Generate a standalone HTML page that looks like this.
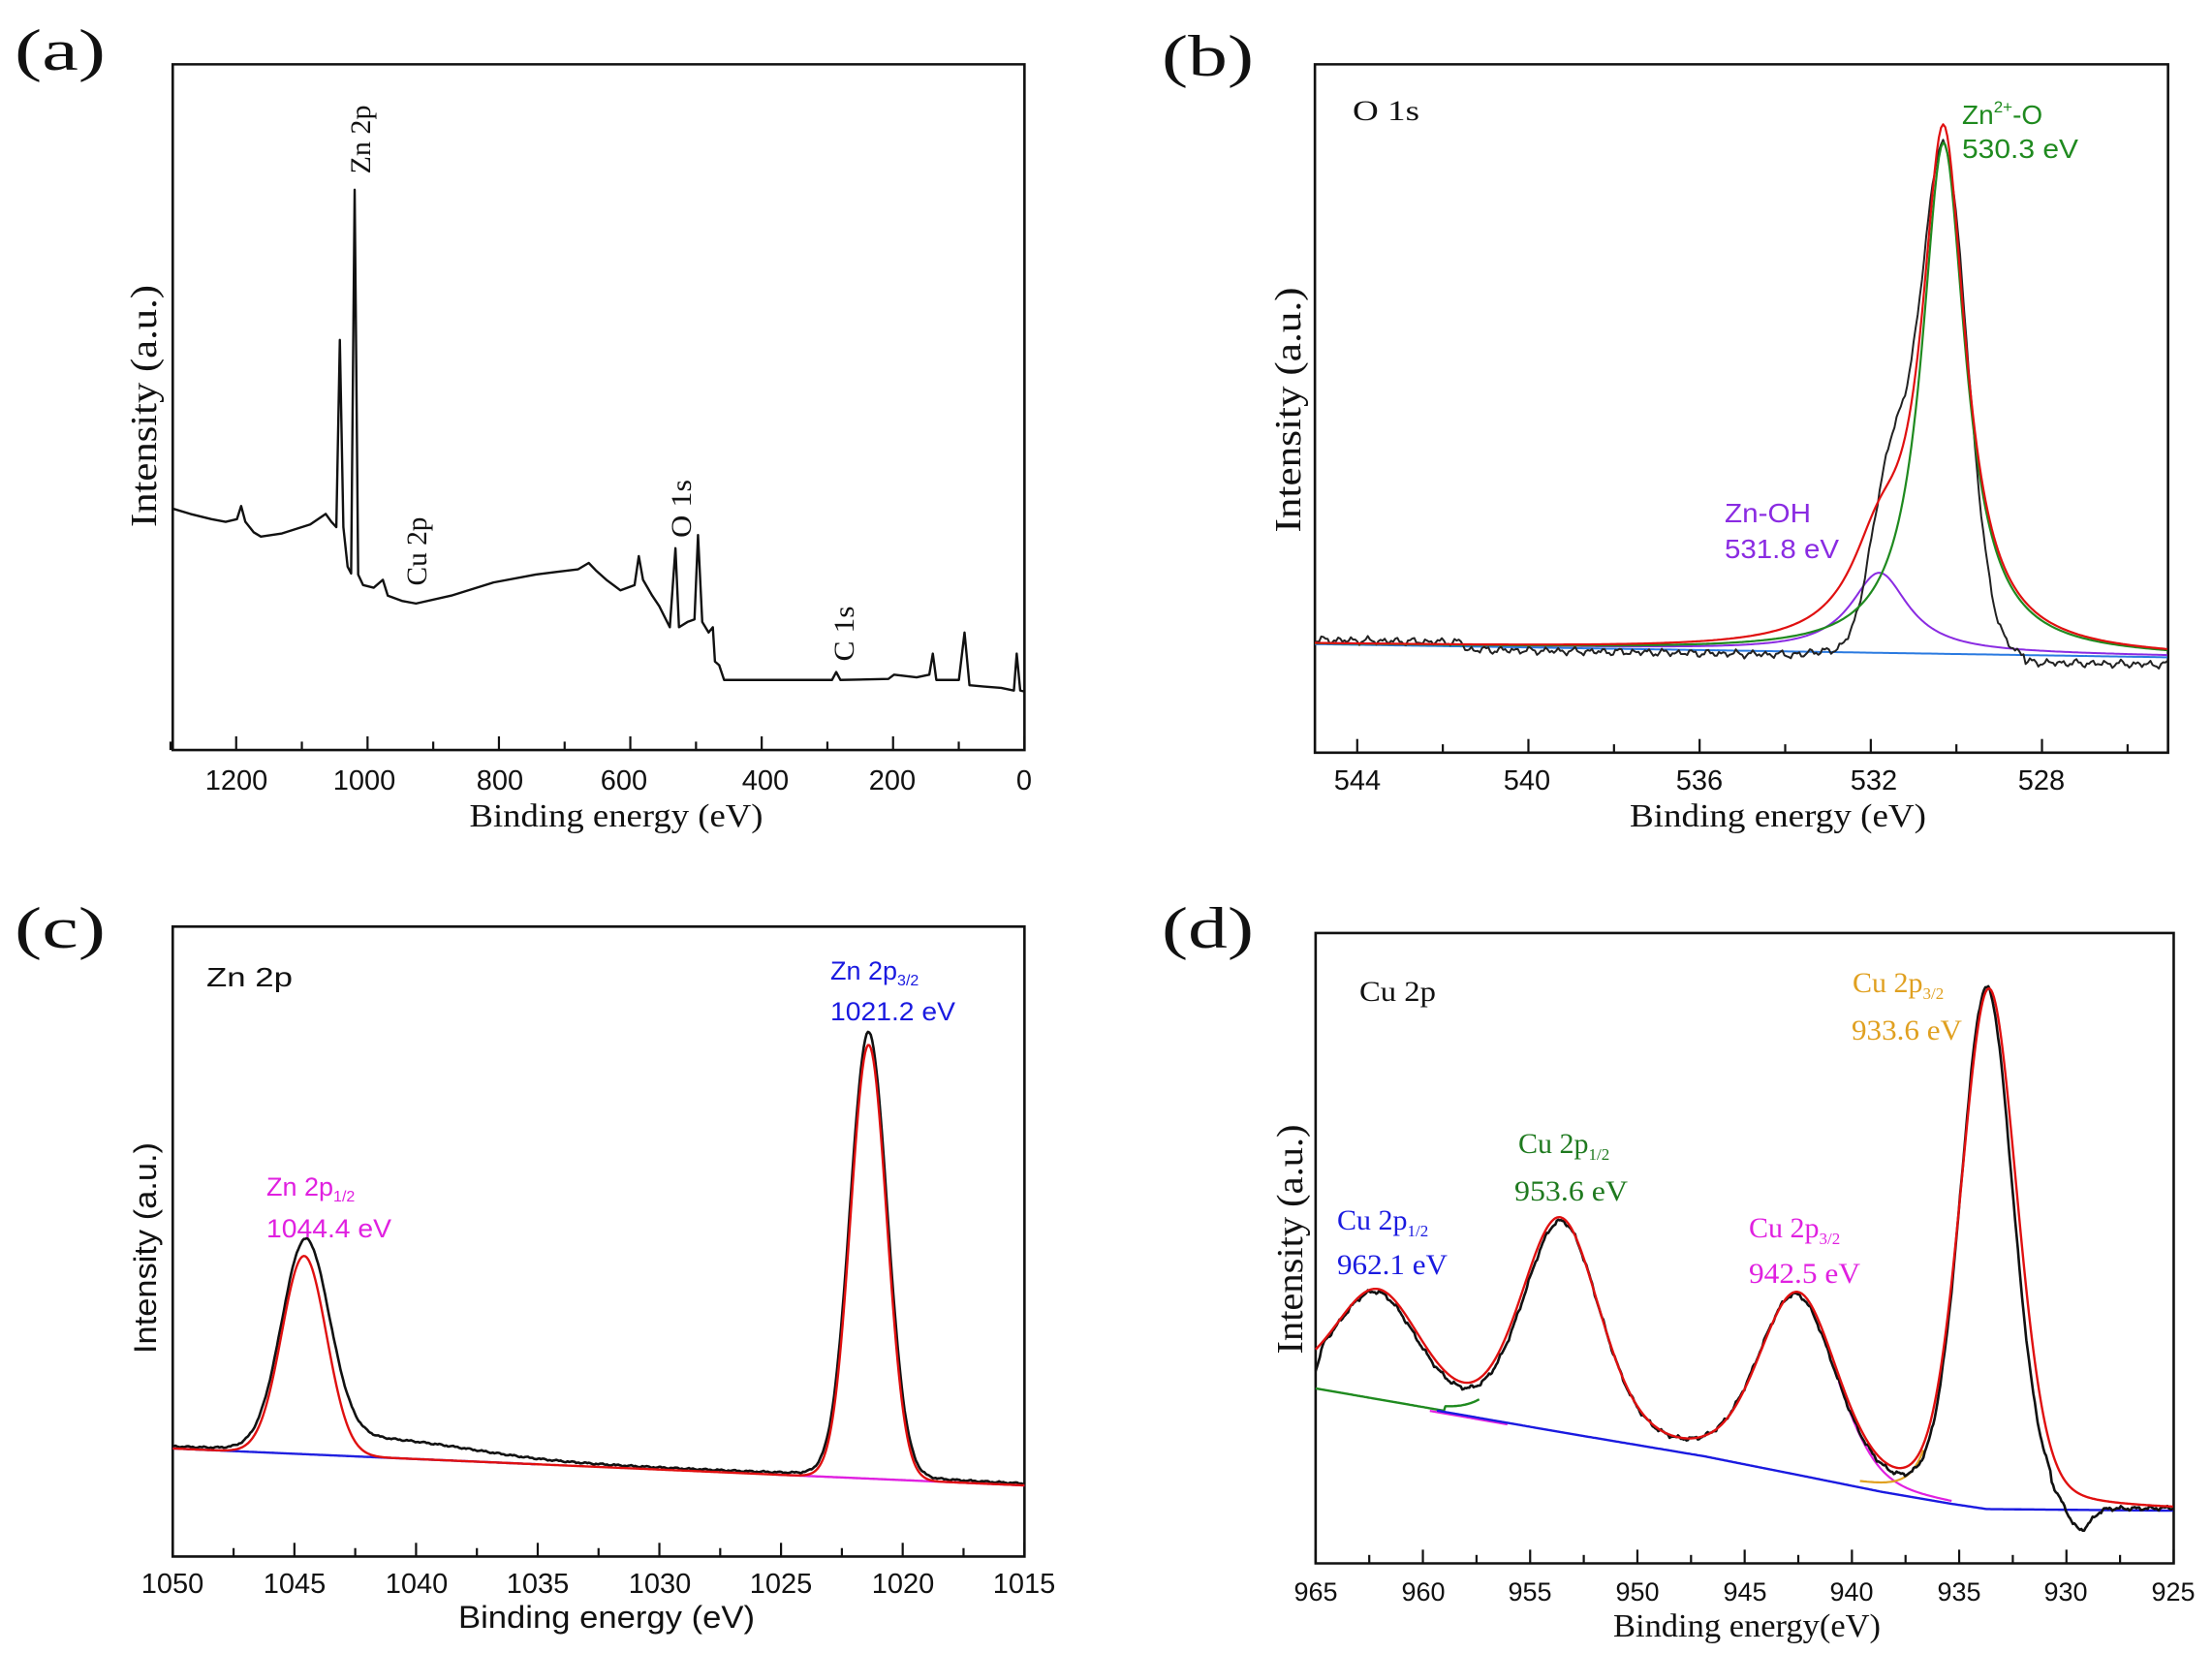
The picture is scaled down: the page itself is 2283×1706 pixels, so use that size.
<!DOCTYPE html>
<html><head><meta charset="utf-8"><style>
html,body{margin:0;padding:0;background:#fff}
svg{display:block}
.p *{vector-effect:non-scaling-stroke}
.serif{font-family:"Liberation Serif",serif}
.sans{font-family:"Liberation Sans",sans-serif}
</style></head><body>
<svg id="s" width="2283" height="1706" viewBox="0 0 2283 1706" xmlns="http://www.w3.org/2000/svg">
<rect width="2283" height="1706" fill="#fff"/>
<g class="p" id="ga" transform="matrix(0.7277,0,0,0.544,0,0)"></g>
<g class="p" id="gb" transform="matrix(0.7277,0,0,0.544,1141,0)"></g>
<g class="p" id="gc" transform="matrix(0.7277,0,0,0.544,0,853)"></g>
<g class="p" id="gd" transform="matrix(0.7277,0,0,0.544,1141,853)"></g>

<!-- Panel a text -->
<g class="serif" fill="#111">
<text x="15" y="72" font-size="60" textLength="94" lengthAdjust="spacingAndGlyphs">(a)</text>
<text transform="translate(161,419) rotate(-90)" text-anchor="middle" font-size="38" textLength="250" lengthAdjust="spacingAndGlyphs">Intensity (a.u.)</text>
<text x="636" y="853" text-anchor="middle" font-size="34" textLength="303" lengthAdjust="spacingAndGlyphs">Binding energy (eV)</text>
<text transform="translate(382,144) rotate(-90)" text-anchor="middle" font-size="30" textLength="71" lengthAdjust="spacingAndGlyphs">Zn 2p</text>
<text transform="translate(440,569) rotate(-90)" text-anchor="middle" font-size="30" textLength="71" lengthAdjust="spacingAndGlyphs">Cu 2p</text>
<text transform="translate(713,525) rotate(-90)" text-anchor="middle" font-size="30" textLength="60" lengthAdjust="spacingAndGlyphs">O 1s</text>
<text transform="translate(881,654) rotate(-90)" text-anchor="middle" font-size="30" textLength="57" lengthAdjust="spacingAndGlyphs">C 1s</text>
</g>
<g class="sans" fill="#111" font-size="29" text-anchor="middle">
<text x="244" y="815">1200</text><text x="376" y="815">1000</text><text x="516" y="815">800</text>
<text x="644" y="815">600</text><text x="790" y="815">400</text><text x="921" y="815">200</text><text x="1057" y="815">0</text>
</g>

<!-- Panel b text -->
<g class="serif" fill="#111">
<text x="1199" y="78" font-size="60" textLength="95" lengthAdjust="spacingAndGlyphs">(b)</text>
<text x="1396" y="124" font-size="30" textLength="69" lengthAdjust="spacingAndGlyphs">O 1s</text>
<text transform="translate(1342,423) rotate(-90)" text-anchor="middle" font-size="38" textLength="253" lengthAdjust="spacingAndGlyphs">Intensity (a.u.)</text>
<text x="1835" y="853" text-anchor="middle" font-size="34" textLength="306" lengthAdjust="spacingAndGlyphs">Binding energy (eV)</text>
</g>
<g class="sans" font-size="28">
<text x="2025" y="128" fill="#1f8a1f">Zn<tspan font-size="17" dy="-12">2+</tspan><tspan dy="12">-O</tspan></text>
<text x="2025" y="163" fill="#1f8a1f" textLength="120" lengthAdjust="spacingAndGlyphs">530.3 eV</text>
<text x="1780" y="539" fill="#8a2be2" textLength="89" lengthAdjust="spacingAndGlyphs">Zn-OH</text>
<text x="1780" y="576" fill="#8a2be2" textLength="118" lengthAdjust="spacingAndGlyphs">531.8 eV</text>
</g>
<g class="sans" fill="#111" font-size="29" text-anchor="middle">
<text x="1401" y="815">544</text><text x="1576" y="815">540</text><text x="1754" y="815">536</text>
<text x="1934" y="815">532</text><text x="2107" y="815">528</text>
</g>

<!-- Panel c text -->
<g class="serif" fill="#111">
<text x="15" y="978" font-size="60" textLength="94" lengthAdjust="spacingAndGlyphs">(c)</text>
</g>
<g class="sans" fill="#111">
<text transform="translate(161,1288) rotate(-90)" text-anchor="middle" font-size="32" textLength="218" lengthAdjust="spacingAndGlyphs">Intensity (a.u.)</text>
<text x="626" y="1680" text-anchor="middle" font-size="32" textLength="306" lengthAdjust="spacingAndGlyphs">Binding energy (eV)</text>
<text x="213" y="1018" font-size="28" textLength="89" lengthAdjust="spacingAndGlyphs">Zn 2p</text>
<text x="857" y="1011" font-size="27" fill="#1a1ae0">Zn 2p<tspan font-size="16" dy="6">3/2</tspan></text>
<text x="857" y="1053" font-size="27" fill="#1a1ae0" textLength="129" lengthAdjust="spacingAndGlyphs">1021.2 eV</text>
<text x="275" y="1234" font-size="27" fill="#e020e0">Zn 2p<tspan font-size="16" dy="6">1/2</tspan></text>
<text x="275" y="1277" font-size="27" fill="#e020e0" textLength="129" lengthAdjust="spacingAndGlyphs">1044.4 eV</text>
</g>
<g class="sans" fill="#111" font-size="29" text-anchor="middle">
<text x="178" y="1644">1050</text><text x="304" y="1644">1045</text><text x="430" y="1644">1040</text>
<text x="555" y="1644">1035</text><text x="681" y="1644">1030</text><text x="806" y="1644">1025</text>
<text x="932" y="1644">1020</text><text x="1057" y="1644">1015</text>
</g>

<!-- Panel d text -->
<g class="serif" fill="#111">
<text x="1199" y="978" font-size="60" textLength="95" lengthAdjust="spacingAndGlyphs">(d)</text>
<text transform="translate(1344,1279) rotate(-90)" text-anchor="middle" font-size="38" textLength="237" lengthAdjust="spacingAndGlyphs">Intensity (a.u.)</text>
<text x="1803" y="1689" text-anchor="middle" font-size="34" textLength="276" lengthAdjust="spacingAndGlyphs">Binding energy(eV)</text>
<text x="1403" y="1033" font-size="30" textLength="79" lengthAdjust="spacingAndGlyphs">Cu 2p</text>
<text x="1912" y="1024" font-size="30" fill="#e0a020">Cu 2p<tspan font-size="17" dy="7">3/2</tspan></text>
<text x="1911" y="1073" font-size="30" fill="#e0a020" textLength="114" lengthAdjust="spacingAndGlyphs">933.6 eV</text>
<text x="1567" y="1190" font-size="30" fill="#1f7a1f">Cu 2p<tspan font-size="17" dy="7">1/2</tspan></text>
<text x="1563" y="1239" font-size="30" fill="#1f7a1f" textLength="117" lengthAdjust="spacingAndGlyphs">953.6 eV</text>
<text x="1380" y="1269" font-size="30" fill="#1a1ae0">Cu 2p<tspan font-size="17" dy="7">1/2</tspan></text>
<text x="1380" y="1315" font-size="30" fill="#1a1ae0" textLength="114" lengthAdjust="spacingAndGlyphs">962.1 eV</text>
<text x="1805" y="1277" font-size="30" fill="#e020e0">Cu 2p<tspan font-size="17" dy="7">3/2</tspan></text>
<text x="1805" y="1324" font-size="30" fill="#e020e0" textLength="115" lengthAdjust="spacingAndGlyphs">942.5 eV</text>
</g>
<g class="sans" fill="#111" font-size="27" text-anchor="middle">
<text x="1358" y="1652">965</text><text x="1469" y="1652">960</text><text x="1579" y="1652">955</text>
<text x="1690" y="1652">950</text><text x="1801" y="1652">945</text><text x="1911" y="1652">940</text>
<text x="2022" y="1652">935</text><text x="2132" y="1652">930</text><text x="2243" y="1652">925</text>
</g>
</svg>
<script>
var NS="http://www.w3.org/2000/svg";
function el(g,tag,attrs){var e=document.createElementNS(NS,tag);for(var k in attrs)e.setAttribute(k,attrs[k]);document.getElementById(g).appendChild(e);return e;}
function P(pts){var s="";for(var i=0;i<pts.length;i++){s+=(i?"L":"M")+pts[i][0].toFixed(1)+" "+pts[i][1].toFixed(1);}return s;}
function line(g,pts,col,w){el(g,"path",{d:P(pts),fill:"none",stroke:col,"stroke-width":w,"stroke-linejoin":"round"});}
function G(x,c,a,s){return a*Math.exp(-(x-c)*(x-c)/(2*s*s));}
function L(x,c,a,w){return a/(1+((x-c)/w)*((x-c)/w));}
function noise(x,amp){return amp*(Math.sin(x*0.3)*0.5+Math.sin(x*0.77+1)*0.3+Math.sin(x*1.9+2)*0.2);}
function frame(g,x0,y0,x1,y1,ticks){
  el(g,"rect",{x:x0,y:y0,width:x1-x0,height:y1-y0,fill:"none",stroke:"#111","stroke-width":2.6});
  ticks.forEach(function(t){el(g,"line",{x1:t[0],x2:t[0],y1:y1,y2:y1-t[1],stroke:"#111","stroke-width":2.2});});
}
// Panel a
(function(){
  var t=[];for(var E=0;E<=1300;E+=100){t.push([1453-E*0.9317,(E%200==0)?26:16]);}
  frame("ga",245,122,1453,1423,t);
  var pts=[[245,965],[270,975],[300,985],[320,990],[336,985],[342,960],[348,990],[360,1010],[370,1018],[400,1012],[440,995],[462,975],[470,990],[477,1000],[482,645],[487,1000],[493,1075],[498,1088],[503,360],[508,1090],[515,1110],[530,1115],[543,1100],[550,1130],[570,1140],[590,1145],[640,1130],[700,1105],[760,1090],[790,1085],[820,1080],[835,1068],[845,1082],[860,1100],[880,1120],[900,1110],[906,1055],[912,1100],[925,1130],[935,1150],[950,1190],[958,1040],[963,1190],[975,1180],[985,1175],[990,1015],[996,1180],[1005,1200],[1011,1190],[1014,1255],[1020,1262],[1027,1290],[1100,1290],[1180,1290],[1186,1275],[1192,1290],[1260,1288],[1268,1280],[1300,1285],[1318,1280],[1323,1240],[1328,1290],[1360,1290],[1368,1200],[1375,1300],[1400,1303],[1420,1305],[1438,1310],[1442,1240],[1447,1310],[1453,1312]];
  line("ga",pts,"#111",2.4);
})();
// Panel b
(function(){
  var X=function(E){return 357+(544-E)*60.7;};
  var t=[];for(var E=526;E<=544;E+=2){t.push([X(E),(E%4==0)?26:16]);}
  frame("gb",297,122,1507,1428,t);
  var base=function(x){return 1222+(x-297)/1210*25;};
  var blue=[],pur=[],grn=[],red=[],blk=[];
  for(var x=297;x<=1507;x+=3){
    var E=544-(x-357)/60.7;
    var p=L(E,531.8,150,0.82),g=L(E,530.3,970,0.62);
    blue.push([x,base(x)]);
    pur.push([x,base(x)-p-2]);grn.push([x,base(x)-g]);red.push([x,base(x)-g-p]);
    var b=base(x)-G(E,530.3,960,0.55)-G(E,531.55,330,0.45)+noise(x,9);
    if(E>541.5)b-=8; else if(E>533.5)b+=6; if(E<528.4)b+=14;
    blk.push([x,b]);
  }
  line("gb",blue,"#2a7ae0",2);line("gb",pur,"#8a2be2",2);
  line("gb",blk,"#222",2);line("gb",grn,"#1f8a1f",2.2);line("gb",red,"#e01010",2.2);
})();
// Panel c
(function(){
  var X=function(E){return 245+(1050-E)*34.51;};
  var t=[];for(var E=1015;E<=1050;E+=2.5){t.push([X(E),(E%5==0)?26:16]);}
  frame("gc",245,190,1453,1385,t);
  var base=function(x){return 1180+70*(x-245)/1208;};
  var bl=[],mg=[],red=[],blk=[];
  for(var x=245;x<=1453;x+=2){
    var E=1050-(x-245)/34.51;
    if(x<=760)bl.push([x,base(x)]); if(x>=1100)mg.push([x,base(x)]);
    red.push([x,base(x)-G(E,1044.6,376,0.92)-G(E,1021.4,823,0.74)]);
    var sh=36/(1+Math.exp(-(E-1037.5)/1.8))/(1+Math.exp(-(1044-E)/0.8));
    var b=base(x)-G(E,1044.55,380,0.98)-G(E,1021.4,830,0.76)-L(E,1044.55,14,1.5)-L(E,1021.4,14,1.3)-sh-3+noise(x,2);
    blk.push([x,b]);
  }
  line("gc",bl,"#2020e0",2.4);line("gc",mg,"#e020e0",2.4);
  line("gc",blk,"#111",2.6);line("gc",red,"#e01010",2.4);
})();
// Panel d
(function(){
  var X=function(E){return 298+(965-E)*30.425;};
  var t=[];for(var E=925;E<=965;E+=2.5){t.push([X(E),(E%5==0)?26:16]);}
  frame("gd",298,202,1515,1398,t);
  var bp=[[298,1068],[470,1108],[650,1150],[850,1195],[1000,1235],[1100,1262],[1200,1285],[1250,1295],[1515,1298]];
  var B=function(x){for(var i=1;i<bp.length;i++){if(x<=bp[i][0]){var a=bp[i-1],b=bp[i];return a[1]+(b[1]-a[1])*(x-a[0])/(b[0]-a[0]);}}return 1298;};
  var pv=function(x,c,a,s,f){var gm=1.1775*s;return a*((1-f)*Math.exp(-(x-c)*(x-c)/(2*s*s))+f/(1+((x-c)/gm)*((x-c)/gm)));};
  var grn=[],mg1=[],blu=[],mg2=[],org=[],red=[],blk=[];
  for(var x=298;x<=1515;x+=2){
    var p1=pv(x,386,205,60,0.2),p2=pv(x,645,401,55,0.2),p3=pv(x,982,338,55,0.2),p4=pv(x,1253,983,40,0.2);
    if(x<=530)grn.push([x,B(x)-2-(x>480?pv(x,645,401,55,0.2)*0.6:0)]);
    if(x>=460&&x<=570)mg1.push([x,B(x)+3]);
    if(x>=470)blu.push([x,B(x)]);
    if(x>=1040&&x<=1200)mg2.push([x,B(x)-p3]);
    if(x>=1070&&x<=1160)org.push([x,B(x)-p4]);
    red.push([x,B(x)-p1-p2-p3-p4]);
    var q4=pv(x,1250,985,37,0.15);
    var b=B(x)-pv(x,384,200,58,0.2)-pv(x,647,395,54,0.2)-pv(x,980,335,55,0.2)-q4+noise(x,5);
    if(x>1340){b+=G(x,1382,45,15)+(x<1515?14*(1515-x)/175:0);}
    if(x<310)b+=(310-x)*3;
    blk.push([x,b]);
  }
  line("gd",grn,"#1f8a1f",2.4);line("gd",mg1,"#e020e0",2.2);line("gd",blu,"#1a1ae0",2.4);
  line("gd",mg2,"#e020e0",2.2);line("gd",org,"#e0a020",2.2);
  line("gd",blk,"#111",2.6);line("gd",red,"#e01010",2.4);
})();
</script>
</body></html>
